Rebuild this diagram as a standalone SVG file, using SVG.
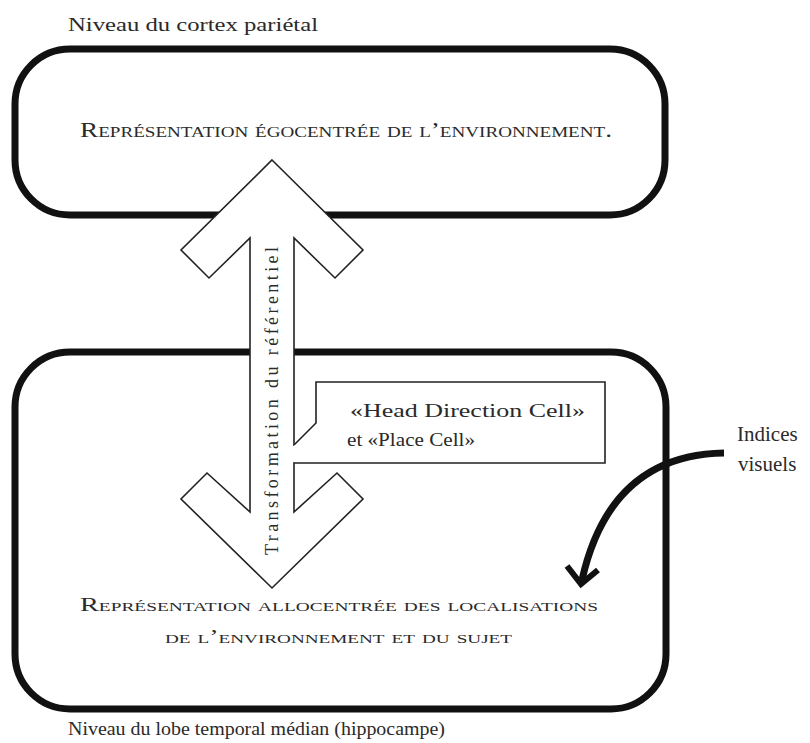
<svg xmlns="http://www.w3.org/2000/svg" width="810" height="743" viewBox="0 0 810 743">
<style>
.sc{font-variant:small-caps;}
.box{fill:none;stroke:#111;stroke-width:7;}
.thin{stroke:#222;stroke-width:1.6;}
</style>
<rect width="810" height="743" fill="#fff"/>
<g font-family="Liberation Serif, serif" fill="#2a2a2a">
<g id="labels">
<text x="68" y="31" font-size="18" textLength="250" lengthAdjust="spacingAndGlyphs">Niveau du cortex pariétal</text>
<text x="68" y="735" font-size="18" textLength="377" lengthAdjust="spacingAndGlyphs">Niveau du lobe temporal médian (hippocampe)</text>
</g>
<g id="top-box">
<rect class="box" x="15" y="49" width="650" height="166" rx="55"/>
<text class="sc" x="80" y="137" font-size="20" textLength="532" lengthAdjust="spacingAndGlyphs">Représentation égocentrée de l’environnement.</text>
</g>
<g id="bottom-box">
<rect class="box" x="15" y="352" width="651" height="357" rx="55"/>
<text class="sc" x="80" y="611" font-size="19" textLength="518" lengthAdjust="spacingAndGlyphs">Représentation allocentrée des localisations</text>
<text class="sc" x="165" y="643" font-size="19" textLength="347" lengthAdjust="spacingAndGlyphs">de l’environnement et du sujet</text>
</g>
<g id="connectors">
<g id="double-arrow">
<polygon class="thin" fill="#fff" points="272,160 363,250 335,278 294,238 294,512 337,473 363,499 272,588 181,499 207,473 250,512 250,238 209,278 181,250"/>
<text transform="translate(278,555) rotate(-90)" font-size="18" textLength="308" lengthAdjust="spacing">Transformation du référentiel</text>
</g>
<g id="visual-cues-arrow">
<path d="M724,453 Q610,455 582,580" fill="none" stroke="#111" stroke-width="7"/>
<polyline points="567,566 581,584 598,570" fill="none" stroke="#111" stroke-width="6"/>
</g>
</g>
<g id="callout">
<path class="thin" fill="#fff" d="M294,445 L316,423 L316,382 L605,382 L605,463 L294,463"/>
<rect x="293" y="446" width="3" height="16" fill="#fff"/>
<text x="350" y="417" font-size="19" textLength="235" lengthAdjust="spacingAndGlyphs">«Head Direction Cell»</text>
<text x="347" y="446" font-size="19" textLength="128" lengthAdjust="spacingAndGlyphs">et «Place Cell»</text>
</g>
<g id="visual-cues">
<text x="737" y="441" font-size="21">Indices</text>
<text x="738" y="471" font-size="21">visuels</text>
</g>
</g>
</svg>
